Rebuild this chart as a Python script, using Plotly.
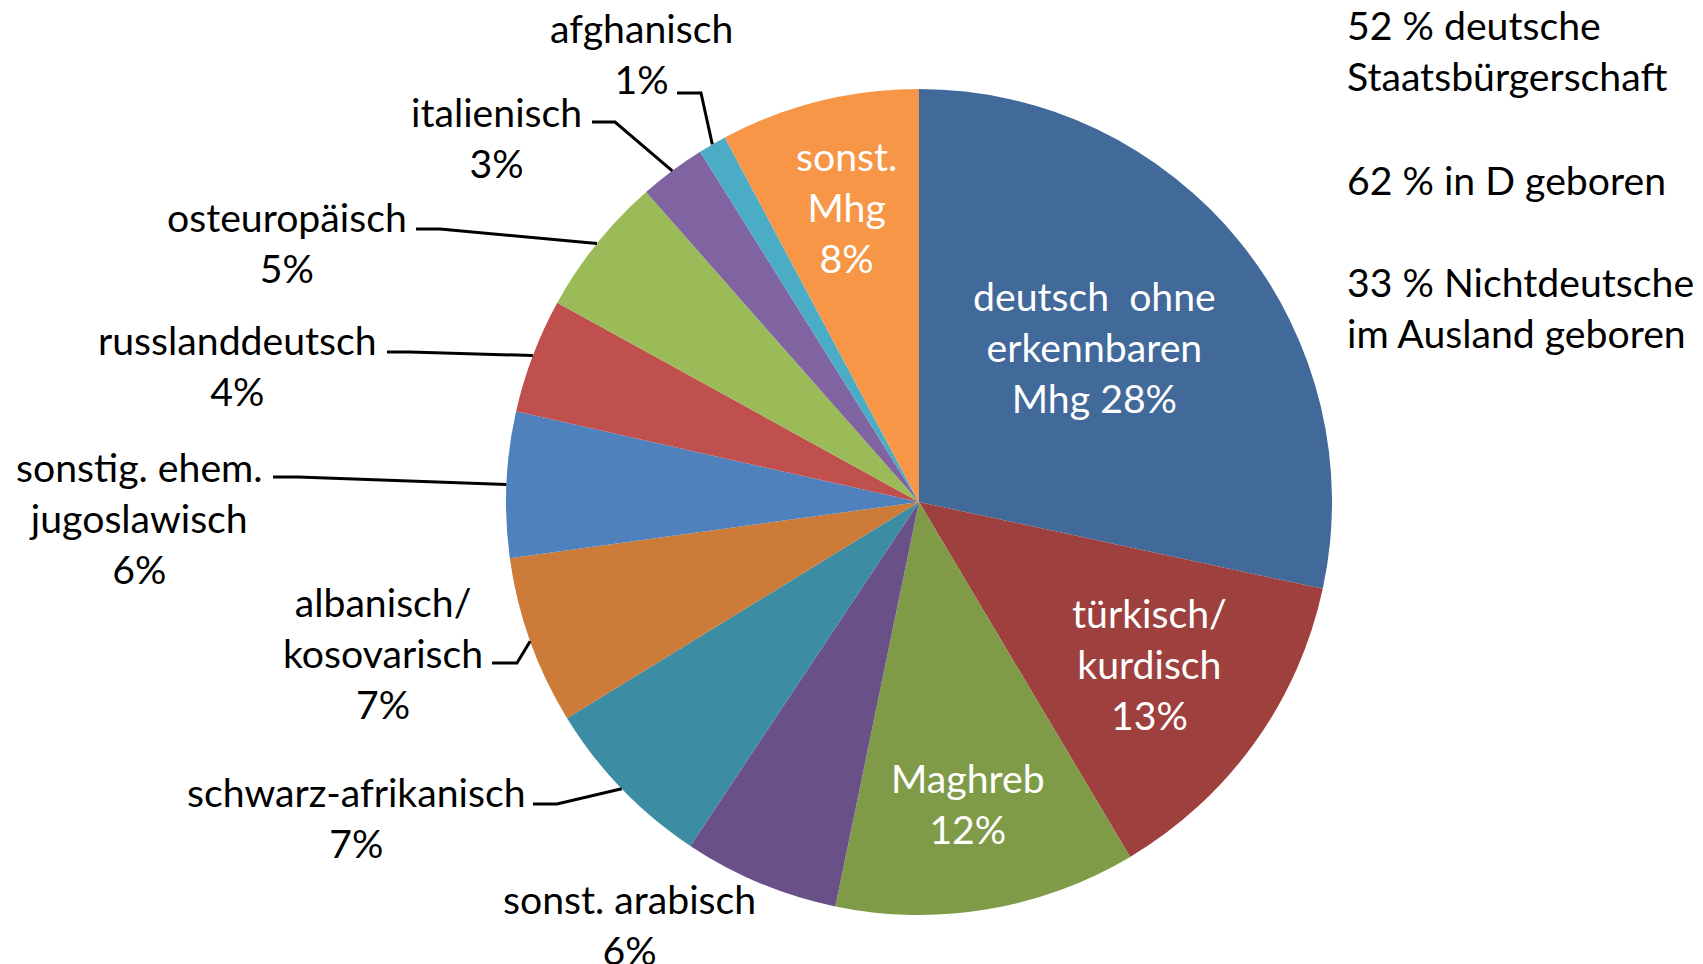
import math
import plotly.graph_objects as go

# ---- data ----
categories = ["deutsch ohne erkennbaren Mhg", "türkisch/kurdisch", "Maghreb", "sonst. arabisch",
              "schwarz-afrikanisch", "albanisch/kosovarisch", "sonstig. ehem. jugoslawisch",
              "russlanddeutsch", "osteuropäisch", "italienisch", "afghanisch", "sonst. Mhg"]
values = [28.4, 13.1, 11.8, 6.1, 6.9, 6.6, 5.7, 4.5, 5.5, 2.6, 1.1, 7.8]
label_texts = ["deutsch\u00a0 ohne<br>erkennbaren<br>Mhg 28%", "türkisch/<br>kurdisch<br>13%",
               "Maghreb<br>12%", "sonst. arabisch<br>6%", "schwarz-afrikanisch<br>7%",
               "albanisch/<br>kosovarisch<br>7%", "sonstig. ehem.<br>jugoslawisch<br>6%",
               "russlanddeutsch<br>4%", "osteuropäisch<br>5%", "italienisch<br>3%",
               "afghanisch<br>1%", "sonst.<br>Mhg<br>8%"]
side_notes = ["52 % deutsche<br>Staatsbürgerschaft", "62 % in D geboren",
              "33 % Nichtdeutsche<br>im Ausland geboren"]

# ---- styles / layout ----
colors = ["#41699A", "#9E413E", "#7F9B48", "#695188", "#3C8DA3", "#CC7B38",
          "#4F81BD", "#C0504D", "#9BBB59", "#8064A2", "#4BACC6", "#F79646"]
inside = [True, True, True, False, False, False, False, False, False, False, False, True]
W, H = 1703, 964
CX, CY, R = 919, 502, 413
FONT = "Lato, 'Open Sans', sans-serif"
FS = 39.2
# label centre positions (pixels)
label_pos = [(1094, 346), (1149, 663), (968, 803), (629, 924), (356, 817), (383, 652),
             (139, 517), (238, 365), (287, 242), (496, 137), (641, 53), (846, 206)]
# leader line horizontal piece: (x_start, x_elbow, y) or None
leaders = [None, None, None, None, (533, 557, 804), (492, 517, 663), (273, 298, 477),
           (387, 410, 352), (416, 440, 229), (592, 615, 122), (677, 701, 93), None]


def px(x):
    return x / W


def py(y):
    return 1 - y / H


fig = go.Figure(go.Pie(
    labels=categories, values=values, sort=False, direction="clockwise", rotation=0,
    marker=dict(colors=colors, line=dict(width=0)),
    textinfo="none", hoverinfo="label+percent", showlegend=False,
    domain=dict(x=[px(CX - R), px(CX + R)], y=[py(CY + R), py(CY - R)]),
))

total = sum(values)
cum = 0.0
annotations = []
shapes = []
for i, v in enumerate(values):
    mid = (cum + v / 2) / total * 2 * math.pi
    cum += v
    ex = CX + R * math.sin(mid)
    ey = CY - R * math.cos(mid)
    lx, ly = label_pos[i]
    annotations.append(dict(
        x=px(lx), y=py(ly), xref="paper", yref="paper", text=label_texts[i],
        showarrow=False, xanchor="center", yanchor="middle", align="center",
        font=dict(family=FONT, size=FS, color="white" if inside[i] else "black"),
    ))
    if leaders[i] is not None:
        x0, x1, y0 = leaders[i]
        path = f"M {px(x0)} {py(y0)} L {px(x1)} {py(y0)} L {px(ex)} {py(ey)}"
        shapes.append(dict(type="path", xref="paper", yref="paper", path=path,
                           line=dict(color="black", width=3)))

note_y = [50, 179, 307]
for t, y in zip(side_notes, note_y):
    annotations.append(dict(
        x=px(1345), y=py(y), xref="paper", yref="paper", text=t, showarrow=False,
        xanchor="left", yanchor="middle", align="left",
        font=dict(family=FONT, size=FS, color="black"),
    ))

fig.update_layout(
    width=W, height=H, margin=dict(l=0, r=0, t=0, b=0),
    paper_bgcolor="white", plot_bgcolor="white",
    annotations=annotations, shapes=shapes,
)
fig.write_html("out.html", config={"displayModeBar": False},
               post_script="document.body.style.margin='0px';document.body.style.overflow='hidden';")
